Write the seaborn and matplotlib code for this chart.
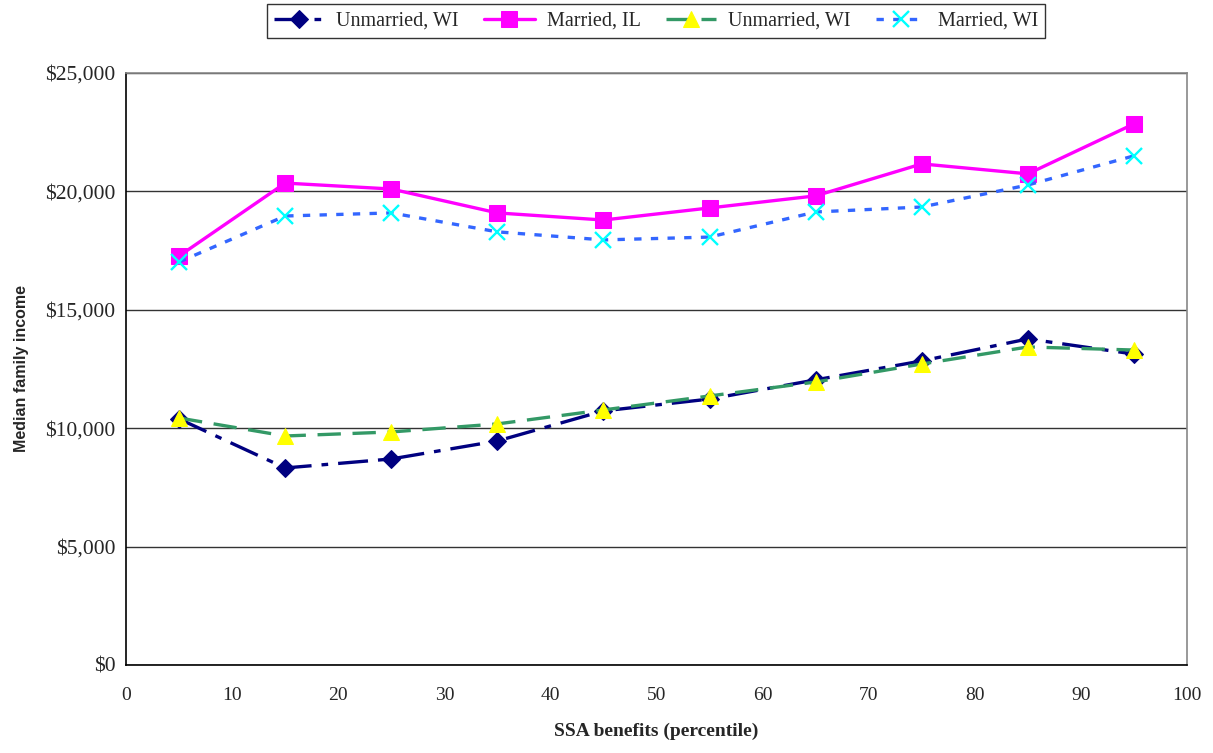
import matplotlib
matplotlib.use("Agg")
import matplotlib.pyplot as plt
import seaborn as sns
import numpy as np
from matplotlib.ticker import FuncFormatter, MultipleLocator

percentile = [5, 15, 25, 35, 45, 55, 65, 75, 85, 95]
unmarried_wi_a = [10390, 8320, 8700, 9460, 10730, 11230, 12040, 12840, 13770, 13130]
married_il = [17270, 20350, 20100, 19090, 18790, 19300, 19810, 21160, 20740, 22850]
unmarried_wi_b = [10430, 9670, 9840, 10180, 10770, 11360, 11950, 12710, 13430, 13300]
married_wi = [17020, 18960, 19090, 18290, 17950, 18070, 19130, 19340, 20270, 21500]
labels = ["Unmarried, WI", "Married, IL", "Unmarried, WI", "Married, WI"]

sns.set_style("white")
plt.rcParams['font.family'] = ['Liberation Serif', 'DejaVu Serif']

fig = plt.figure(figsize=(12.13, 7.53), dpi=100)
ax = fig.add_axes([0.1039, 0.1169, 0.9786 - 0.1039, 0.9031 - 0.1169])

lw = 2.4
sns.lineplot(x=percentile, y=unmarried_wi_a, ax=ax, color="#000080", lw=lw,
             marker="D", markersize=9, markeredgecolor="#000080",
             markerfacecolor="#000080", label=labels[0], zorder=3)
ax.lines[-1].set_dashes([9, 3, 2, 3])
sns.lineplot(x=percentile, y=married_il, ax=ax, color="#FF00FF", lw=lw,
             marker="s", markersize=11, markeredgecolor="#FF00FF",
             markerfacecolor="#FF00FF", label=labels[1], zorder=3)
sns.lineplot(x=percentile, y=unmarried_wi_b, ax=ax, color="#339966", lw=lw,
             marker="^", markersize=12, markeredgecolor="#FFFF00",
             markerfacecolor="#FFFF00", label=labels[2], zorder=4)
ax.lines[-1].set_dashes([7, 3.5])
sns.lineplot(x=percentile, y=married_wi, ax=ax, color="#3366FF", lw=lw,
             marker="x", markersize=11, markeredgecolor="#00FFFF",
             markeredgewidth=1.7, label=labels[3], zorder=3)
ax.lines[-1].set_dashes([2.2, 2.8])

ax.set_xlim(0, 100)
ax.set_ylim(0, 25000)
ax.xaxis.set_major_locator(MultipleLocator(10))
ax.yaxis.set_major_locator(MultipleLocator(5000))
ax.yaxis.set_major_formatter(FuncFormatter(lambda v, p: f"${int(v):,}"))
ax.grid(axis="y", color="#333333", lw=1.0)
ax.grid(axis="x", visible=False)
ax.set_axisbelow(True)

for s in ["left", "bottom"]:
    ax.spines[s].set_color("black")
    ax.spines[s].set_linewidth(1.2)
for s in ["right", "top"]:
    ax.spines[s].set_color("#888888")
    ax.spines[s].set_linewidth(1.2)

ax.tick_params(axis="both", direction="inout", length=7, width=1, color="black")
ax.tick_params(axis="x", labelsize=14, pad=12)
ax.tick_params(axis="y", labelsize=15.5, pad=4)

ax.set_xlabel("SSA benefits (percentile)", fontsize=14, fontweight="bold", labelpad=14)
ax.set_ylabel("Median family income", fontsize=11.5, fontweight="bold",
              family=["Liberation Sans", "DejaVu Sans"], labelpad=12)

handles, lbls = ax.get_legend_handles_labels()
ax.get_legend().remove()
leg = fig.legend(handles, lbls, loc="center", bbox_to_anchor=(0.541, 0.972),
                 ncol=4, frameon=True, fancybox=False, fontsize=14.5,
                 handlelength=2.5, handletextpad=0.6, columnspacing=1.25,
                 borderpad=0.35, borderaxespad=0)
leg.get_frame().set_edgecolor("black")
leg.get_frame().set_linewidth(1.0)

fig.savefig("out.png", dpi=100)
